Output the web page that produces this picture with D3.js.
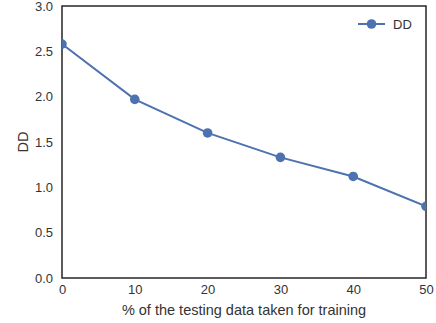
<!DOCTYPE html>
<html>
<head>
<meta charset="utf-8">
<script src="https://cdn.jsdelivr.net/npm/d3@7"></script>
<style>
  body { margin: 0; background: #fff; }
  text { font-family: "Liberation Sans", Arial, sans-serif; }
</style>
</head>
<body>
<div id="chart"></div>
<script>
var pct = [0, 10, 20, 30, 40, 50];
var dd = [2.58, 1.97, 1.60, 1.33, 1.12, 0.79];
var xTicks = [0, 10, 20, 30, 40, 50];
var yTicks = [0.0, 0.5, 1.0, 1.5, 2.0, 2.5, 3.0];
var seriesName = "DD";

var w = 436, h = 323;
// plot box (note: "top" is a reserved window prop, so use px names)
var pLeft = 62, pRight = 426, pTop = 6, pBottom = 278;
var blue = "#4c72b0";
var ink = "#333";

var svg = d3.select("#chart").append("svg")
    .attr("width", w)
    .attr("height", h);

var x = d3.scaleLinear().domain([0, 50]).range([pLeft, pRight]);
var y = d3.scaleLinear().domain([0, 3]).range([pBottom, pTop]);

svg.append("clipPath").attr("id", "clip")
  .append("rect")
    .attr("x", pLeft).attr("y", pTop)
    .attr("width", pRight - pLeft).attr("height", pBottom - pTop);

// axes (no tick marks, seaborn white style)
var xAxis = svg.append("g")
    .attr("transform", "translate(0," + pBottom + ")")
    .call(d3.axisBottom(x).tickValues(xTicks).tickSize(0).tickPadding(7).tickFormat(d3.format("d")));
var yAxis = svg.append("g")
    .attr("transform", "translate(" + pLeft + ",0)")
    .call(d3.axisLeft(y).tickValues(yTicks).tickSize(0).tickPadding(9).tickFormat(d3.format(".1f")));

[xAxis, yAxis].forEach(function(a) {
  a.select(".domain").remove();
  a.selectAll("text").attr("font-size", "13px").attr("fill", ink)
    .attr("font-family", "Liberation Sans, Arial, sans-serif");
});

// frame
svg.append("rect")
    .attr("x", pLeft).attr("y", pTop)
    .attr("width", pRight - pLeft).attr("height", pBottom - pTop)
    .attr("fill", "none")
    .attr("stroke", "#262626")
    .attr("stroke-width", 1.5);

var g = svg.append("g").attr("clip-path", "url(#clip)");

var line = d3.line()
    .x(function(d, i) { return x(pct[i]); })
    .y(function(d) { return y(d); });

g.append("path")
    .datum(dd)
    .attr("d", line)
    .attr("fill", "none")
    .attr("stroke", blue)
    .attr("stroke-width", 2);

g.selectAll("circle")
    .data(dd)
    .enter()
    .append("circle")
    .attr("cx", function(d, i) { return x(pct[i]); })
    .attr("cy", function(d) { return y(d); })
    .attr("r", 4.8)
    .attr("fill", blue);

// labels
svg.append("text")
    .attr("x", (pLeft + pRight) / 2)
    .attr("y", 315)
    .attr("text-anchor", "middle")
    .attr("font-size", "14.5px")
    .attr("fill", ink)
    .text("% of the testing data taken for training");

svg.append("text")
    .attr("transform", "translate(28," + ((pTop + pBottom) / 2) + ")rotate(-90)")
    .attr("text-anchor", "middle")
    .attr("font-size", "14.5px")
    .attr("fill", ink)
    .text("DD");

// legend
var lg = svg.append("g").attr("transform", "translate(358,24)");
lg.append("line").attr("x1", 0).attr("x2", 27).attr("y1", 0).attr("y2", 0)
    .attr("stroke", blue).attr("stroke-width", 2);
lg.append("circle").attr("cx", 13.5).attr("cy", 0).attr("r", 4.8).attr("fill", blue);
lg.append("text").attr("x", 35).attr("y", 5)
    .attr("font-size", "13px").attr("fill", ink).text(seriesName);
</script>
</body>
</html>
